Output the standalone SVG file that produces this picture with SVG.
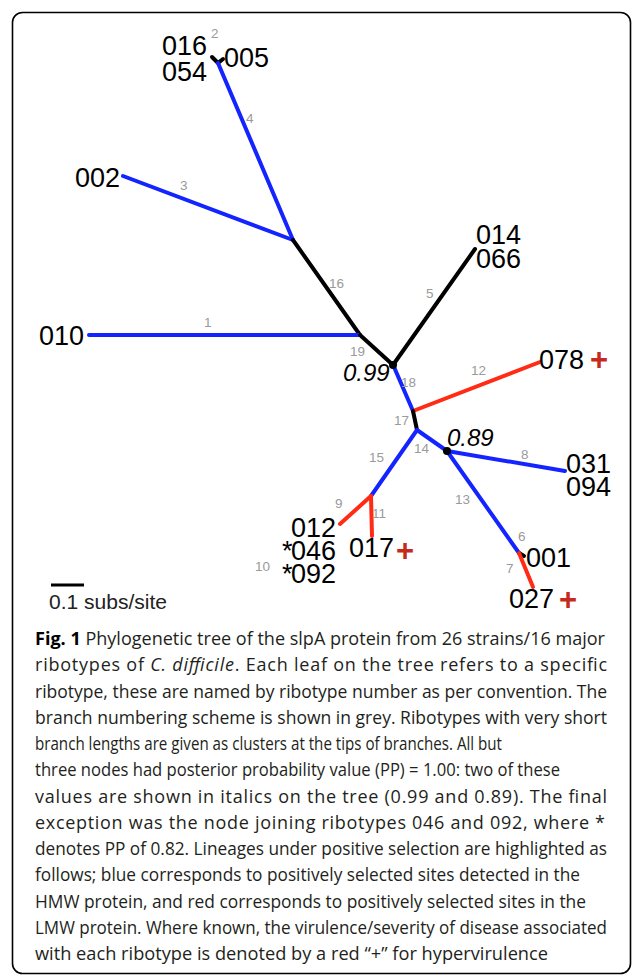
<svg xmlns="http://www.w3.org/2000/svg" width="633" height="976" viewBox="0 0 633 976">
<style>
.leaf{font-family:"Liberation Sans",Arial,sans-serif;font-size:27px;fill:#000}
.bn{font-family:"Liberation Sans",Arial,sans-serif;font-size:13.5px;fill:#9a9a9a}
.pp{font-family:"Liberation Sans",Arial,sans-serif;font-size:24px;font-style:italic;fill:#000}
.plus{font-family:"Liberation Sans",Arial,sans-serif;font-size:31px;font-weight:bold;fill:#c62a1c}
.br{stroke-width:4;stroke-linecap:round;fill:none}
.k{stroke:#000}
.b{stroke:#1424ff}
.r{stroke:#ff2b14}
.cap{font-family:"Open Sans","Noto Sans",sans-serif;font-size:18px;fill:#231f20}
</style>
<rect x="12.5" y="12.5" width="618" height="961" rx="10" ry="10" fill="#fff" stroke="#000" stroke-width="1.6"/>

<g id="connectors">
  <polyline class="br k" points="212,57 218,63 223,59" stroke-width="3"/>
  <line class="br b" x1="218" y1="63" x2="293" y2="240"/>
  <line class="br b" x1="123" y1="176" x2="293" y2="240"/>
  <line class="br k" x1="293" y1="240" x2="360" y2="335" stroke-width="3"/>
  <line class="br b" x1="89" y1="335" x2="360" y2="335"/>
  <line class="br k" x1="360" y1="335" x2="393" y2="365" stroke-width="3"/>
  <line class="br k" x1="393" y1="365" x2="475" y2="249"/>
  <line class="br b" x1="394" y1="367" x2="413" y2="411"/>
  <line class="br r" x1="413" y1="411" x2="540" y2="362"/>
  <line class="br k" x1="413" y1="411" x2="417" y2="430" stroke-width="3"/>
  <line class="br b" x1="417" y1="430" x2="371" y2="496"/>
  <line class="br b" x1="417" y1="430" x2="447" y2="451"/>
  <line class="br b" x1="447" y1="451" x2="565" y2="471"/>
  <line class="br b" x1="447" y1="451" x2="519" y2="553"/>
  <line class="br k" x1="519" y1="553" x2="524" y2="556" stroke-width="3"/>
  <line class="br r" x1="519" y1="553" x2="533" y2="587"/>
  <line class="br r" x1="371" y1="496" x2="340" y2="524"/>
  <line class="br r" x1="371" y1="496" x2="372" y2="536"/>
  <circle cx="393" cy="365" r="4" fill="#000"/>
  <circle cx="447" cy="451" r="4" fill="#000"/>
</g>

<g id="branch-numbers">
  <text class="bn" x="211" y="38" font-size="12">2</text>
  <text class="bn" x="180" y="190">3</text>
  <text class="bn" x="246" y="123">4</text>
  <text class="bn" x="204" y="327">1</text>
  <text class="bn" x="329" y="288">16</text>
  <text class="bn" x="350" y="356">19</text>
  <text class="bn" x="426" y="298">5</text>
  <text class="bn" x="401" y="387">18</text>
  <text class="bn" x="471" y="375">12</text>
  <text class="bn" x="394" y="425">17</text>
  <text class="bn" x="369" y="462">15</text>
  <text class="bn" x="414" y="453">14</text>
  <text class="bn" x="521" y="459">8</text>
  <text class="bn" x="455" y="504">13</text>
  <text class="bn" x="518" y="541">6</text>
  <text class="bn" x="506" y="573">7</text>
  <text class="bn" x="335" y="508">9</text>
  <text class="bn" x="372" y="518">11</text>
  <text class="bn" x="255" y="571">10</text>
</g>

<g id="pp-values">
  <text class="pp" x="343" y="381">0.99</text>
  <text class="pp" x="447" y="446">0.89</text>
</g>

<g id="leaf-016-054"><text class="leaf" x="162" y="55">016</text><text class="leaf" x="162" y="81">054</text></g>
<g id="leaf-005"><text class="leaf" x="224" y="67">005</text></g>
<g id="leaf-002"><text class="leaf" x="75" y="187">002</text></g>
<g id="leaf-010"><text class="leaf" x="39" y="345">010</text></g>
<g id="leaf-014-066"><text class="leaf" x="476" y="244">014</text><text class="leaf" x="476" y="268">066</text></g>
<g id="leaf-078"><text class="leaf" x="539" y="369">078</text><text class="plus" x="590" y="370">+</text></g>
<g id="leaf-031-094"><text class="leaf" x="566" y="473">031</text><text class="leaf" x="566" y="496">094</text></g>
<g id="leaf-001"><text class="leaf" x="526" y="567">001</text></g>
<g id="leaf-027"><text class="leaf" x="509" y="608">027</text><text class="plus" x="559" y="610">+</text></g>
<g id="leaf-012-046-092">
  <text class="leaf" x="291" y="537">012</text>
  <text class="leaf" x="282" y="560" font-size="20">*</text><text class="leaf" x="291" y="560">046</text>
  <text class="leaf" x="282" y="583" font-size="20">*</text><text class="leaf" x="291" y="583">092</text>
</g>
<g id="leaf-017"><text class="leaf" x="349" y="557">017</text><text class="plus" x="396" y="561">+</text></g>

<g id="scale-bar">
  <line x1="51" y1="585" x2="84" y2="585" stroke="#000" stroke-width="3"/>
  <text x="49" y="609" font-family="Liberation Sans,Arial,sans-serif" font-size="19.5" fill="#222" textLength="118" lengthAdjust="spacingAndGlyphs">0.1 subs/site</text>
</g>

<g id="caption">
  <text class="cap" x="35" y="645" textLength="570" lengthAdjust="spacingAndGlyphs"><tspan font-weight="bold" fill="#000">Fig. 1</tspan> Phylogenetic tree of the slpA protein from 26 strains/16 major</text>
  <text class="cap" x="35" y="671.3" textLength="572" lengthAdjust="spacing">ribotypes of <tspan font-style="italic">C. difficile</tspan>. Each leaf on the tree refers to a specific</text>
  <text class="cap" x="35" y="697.5" textLength="572" lengthAdjust="spacingAndGlyphs">ribotype, these are named by ribotype number as per convention. The</text>
  <text class="cap" x="35" y="723.8" textLength="572" lengthAdjust="spacingAndGlyphs">branch numbering scheme is shown in grey. Ribotypes with very short</text>
  <text class="cap" x="35" y="750" textLength="467" lengthAdjust="spacingAndGlyphs">branch lengths are given as clusters at the tips of branches. All but</text>
  <text class="cap" x="35" y="776.3" textLength="525" lengthAdjust="spacingAndGlyphs">three nodes had posterior probability value (PP) = 1.00: two of these</text>
  <text class="cap" x="35" y="802.5" textLength="572" lengthAdjust="spacing">values are shown in italics on the tree (0.99 and 0.89). The final</text>
  <text class="cap" x="35" y="828.8" textLength="570" lengthAdjust="spacing">exception was the node joining ribotypes 046 and 092, where *</text>
  <text class="cap" x="35" y="855" textLength="572" lengthAdjust="spacingAndGlyphs">denotes PP of 0.82. Lineages under positive selection are highlighted as</text>
  <text class="cap" x="35" y="881.3" textLength="545" lengthAdjust="spacingAndGlyphs">follows; blue corresponds to positively selected sites detected in the</text>
  <text class="cap" x="35" y="907.5" textLength="551" lengthAdjust="spacingAndGlyphs">HMW protein, and red corresponds to positively selected sites in the</text>
  <text class="cap" x="35" y="933.8" textLength="572" lengthAdjust="spacingAndGlyphs">LMW protein. Where known, the virulence/severity of disease associated</text>
  <text class="cap" x="35" y="960" textLength="513" lengthAdjust="spacingAndGlyphs">with each ribotype is denoted by a red “+” for hypervirulence</text>
</g>
</svg>
